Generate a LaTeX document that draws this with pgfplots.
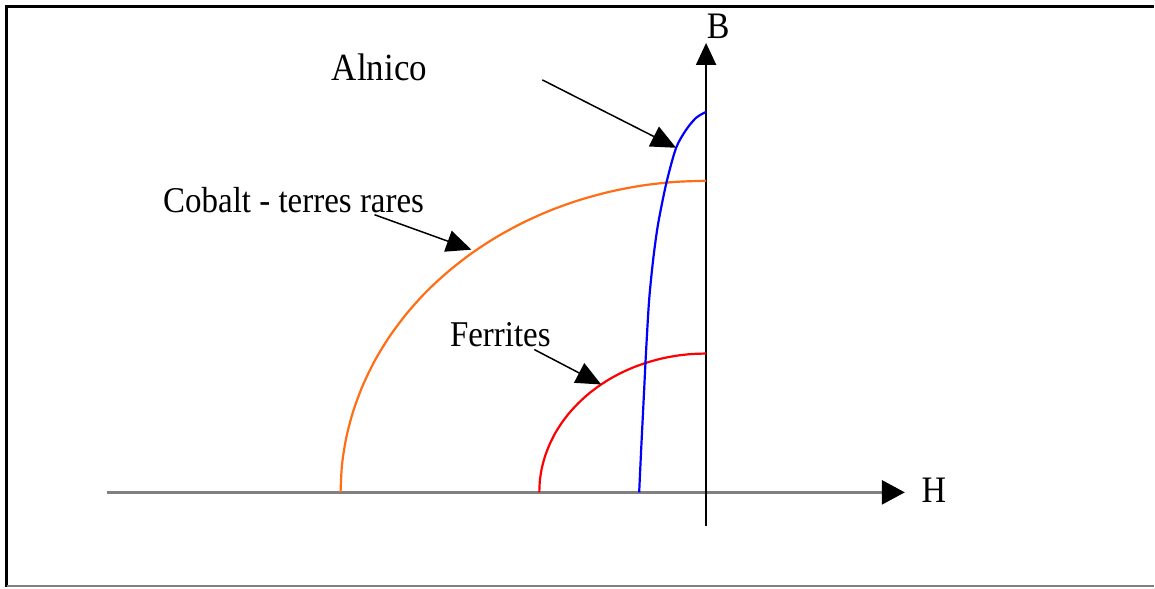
\documentclass[border=0pt]{standalone}
\usepackage{pgfplots}
\pgfplotsset{compat=1.18}
\usepackage{fontspec}
\setmainfont{Liberation Serif}
\usetikzlibrary{arrows.meta}
\definecolor{alnico}{RGB}{0,0,255}
\definecolor{cobalt}{RGB}{255,110,20}
\definecolor{ferrite}{RGB}{255,0,0}
\definecolor{haxis}{RGB}{128,128,128}

\newcommand{\lbl}[2]{\fontsize{#1}{#1}\selectfont\scalebox{1}[1.1]{#2}}

\begin{document}
\begin{tikzpicture}
\begin{axis}[
  x=0.5pt, y=0.5pt,
  xmin=-707, xmax=448, ymin=-95, ymax=493,
  hide axis, clip=false, scale only axis,
]
% page and frame
\fill[white] (axis cs:-707,-95) rectangle (axis cs:448,493);
\draw[black, line width=1.5pt] (axis cs:-701.5,486.5) -- (axis cs:448,486.5);
\draw[black, line width=1.5pt] (axis cs:-700,487.5) -- (axis cs:-700,-95);
\draw[haxis, line width=0.8pt] (axis cs:-700,-93.5) -- (axis cs:448,-93.5);

% H and B axes
\draw[haxis, line width=1.4pt, -{Triangle[length=11.5pt,width=12pt,color=black]}]
  (axis cs:-600,0) -- (axis cs:199,0);
\draw[black, line width=1pt, -{Triangle[length=11pt,width=10pt]}]
  (axis cs:0,-34) -- (axis cs:0,450);
\node at (axis cs:12,467) {\lbl{17}{B}};
\node at (axis cs:228,2) {\lbl{17}{H}};

% demagnetisation curves
\addplot[cobalt, line width=1.1pt, smooth] coordinates {
  (-366,0) (-364.6,27.2) (-360.4,54.2) (-353.5,80.7) (-343.9,106.7)
  (-331.7,131.9) (-317.0,156.0) (-299.8,179.0) (-280.4,200.6)
  (-258.8,220.6) (-235.3,239.0) (-209.9,255.6) (-183.0,270.2)
  (-154.7,282.8) (-125.2,293.2) (-94.7,301.4) (-63.5,307.3)
  (-31.9,310.8) (0,312)
};
\addplot[ferrite, line width=1.1pt, smooth] coordinates {
  (-167,0) (-166.4,12.1) (-164.5,24.1) (-161.3,36.0) (-156.9,47.5)
  (-151.4,58.7) (-144.6,69.5) (-136.8,79.7) (-127.9,89.3)
  (-118.1,98.3) (-107.3,106.5) (-95.8,113.9) (-83.5,120.4)
  (-70.6,126.0) (-57.1,130.6) (-43.2,134.3) (-29.0,136.9)
  (-14.6,138.5) (0,139)
};
\addplot[alnico, line width=1.1pt, smooth] coordinates {
  (-67,0) (-65,43) (-62.5,93) (-60,143) (-57,193) (-53,233)
  (-49,263) (-45,285) (-39,313) (-30,345) (-20,363) (-10,375) (0,381)
};

% labels with pointers
\node at (axis cs:-327,426) {\lbl{17.5}{Alnico}};
\draw[black, line width=0.75pt, -{Triangle[length=12.5pt,width=11pt]}]
  (axis cs:-164,413) -- (axis cs:-30,345);

\node at (axis cs:-413,293) {\lbl{16.5}{Cobalt - terres rares}};
\draw[black, line width=0.75pt, -{Triangle[length=12.5pt,width=11pt]}]
  (axis cs:-332,278) -- (axis cs:-235,243);

\node at (axis cs:-206,158) {\lbl{16.5}{Ferrites}};
\draw[black, line width=0.75pt, -{Triangle[length=12.5pt,width=11pt]}]
  (axis cs:-172,143) -- (axis cs:-105,108);
\end{axis}
\end{tikzpicture}
\end{document}
